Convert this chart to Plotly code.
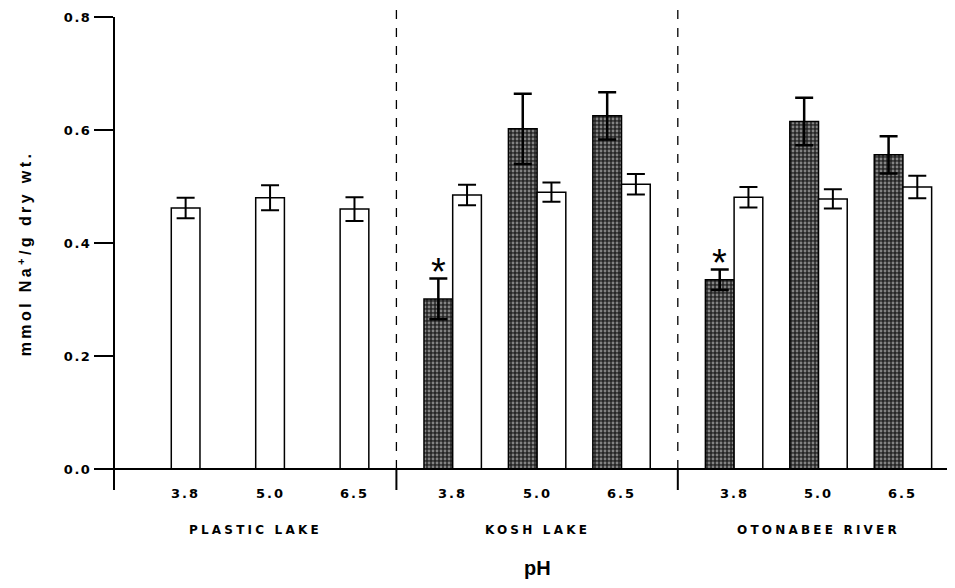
import plotly.graph_objects as go

# ---- data ----
groups = ["PLASTIC LAKE", "KOSH LAKE", "OTONABEE RIVER"]
ph_labels = ["3.8", "5.0", "6.5"]

hatched_vals = [[None, None, None], [0.301, 0.602, 0.625], [0.335, 0.615, 0.556]]
hatched_err = [[None, None, None], [0.036, 0.062, 0.042], [0.018, 0.042, 0.033]]
white_vals = [[0.462, 0.480, 0.460], [0.485, 0.490, 0.504], [0.481, 0.478, 0.499]]
white_err = [[0.018, 0.022, 0.021], [0.018, 0.017, 0.018], [0.018, 0.017, 0.020]]
significant = [[False, False, False], [True, False, False], [True, False, False]]

y_ticks = [0.0, 0.2, 0.4, 0.6, 0.8]
y_ticktext = ["0.0", "0.2", "0.4", "0.6", "0.8"]

# ---- layout helpers ----
GROUP_W = 10.0
PAIR_OFF = [2.0, 5.0, 8.0]
BAR_W = 1.02
XMAX = 29.85
YMIN, YMAX = -0.0372, 0.8


def py(v):
    """data y -> paper y (for labels drawn below the axis)"""
    return (v - YMIN) / (YMAX - YMIN)


hx, hy, he, wx, wy, we = [], [], [], [], [], []
for g in range(len(groups)):
    for i in range(len(ph_labels)):
        c = g * GROUP_W + PAIR_OFF[i]
        if hatched_vals[g][i] is not None:
            hx.append(c - BAR_W / 2)
            hy.append(hatched_vals[g][i])
            he.append(hatched_err[g][i])
        wx.append(c + BAR_W / 2)
        wy.append(white_vals[g][i])
        we.append(white_err[g][i])

fig = go.Figure()
fig.add_trace(go.Bar(
    x=hx, y=hy, width=BAR_W,
    marker=dict(color="#2a2a2a", line=dict(color="black", width=1.5),
                pattern=dict(shape=".", fgcolor="#e0e0e0", bgcolor="#262626",
                             size=4, solidity=0.4)),
    error_y=dict(type="data", array=he, visible=True, color="black",
                 thickness=2.5, width=9),
    showlegend=False,
))
fig.add_trace(go.Bar(
    x=wx, y=wy, width=BAR_W,
    marker=dict(color="white", line=dict(color="black", width=1.5)),
    error_y=dict(type="data", array=we, visible=True, color="black",
                 thickness=2, width=9),
    showlegend=False,
))

BOLD = "DejaVu Sans"
ann = []
for g in range(len(groups)):
    for i in range(len(ph_labels)):
        c = g * GROUP_W + PAIR_OFF[i]
        lx = c if hatched_vals[g][i] is not None else c + BAR_W / 2
        ann.append(dict(x=lx, y=py(-0.043), xref="x", yref="paper", showarrow=False,
                        text='<span style="letter-spacing:2px">%s</span>' % ph_labels[i],
                        font=dict(family=BOLD, size=13, color="black", weight="bold"),
                        xanchor="center", yanchor="middle"))
        if significant[g][i]:
            top = hatched_vals[g][i] + hatched_err[g][i]
            ann.append(dict(x=c - BAR_W / 2, y=top + 0.026, xref="x", yref="y",
                            showarrow=False, text="*",
                            font=dict(family="Liberation Sans", size=38, color="black"),
                            xanchor="center", yanchor="middle", yshift=-8))
    ann.append(dict(x=g * GROUP_W + GROUP_W / 2, y=py(-0.108), xref="x", yref="paper",
                    showarrow=False,
                    text='<span style="letter-spacing:3.2px">%s</span>' % groups[g],
                    font=dict(family=BOLD, size=12, color="black", weight="bold"),
                    xanchor="center", yanchor="middle"))
ann.append(dict(x=GROUP_W * 1.5, y=py(-0.176), xref="x", yref="paper", showarrow=False,
                text="pH", font=dict(family="Liberation Sans", size=20, color="black", weight="bold"),
                xanchor="center", yanchor="middle"))

shapes = []
# x axis baseline
shapes.append(dict(type="line", xref="x", yref="y", x0=0, x1=XMAX, y0=0, y1=0,
                   line=dict(color="black", width=2)))
for g in range(1, len(groups)):
    xb = g * GROUP_W
    shapes.append(dict(type="line", xref="x", yref="paper", x0=xb, x1=xb, y0=py(0), y1=1.015,
                       line=dict(color="black", width=1.3, dash="dash")))
    shapes.append(dict(type="line", xref="x", yref="paper", x0=xb, x1=xb, y0=0.0, y1=py(0),
                       line=dict(color="black", width=2)))

fig.update_layout(
    width=947, height=580,
    margin=dict(l=107, r=0, t=9, b=98),
    plot_bgcolor="white", paper_bgcolor="white",
    barmode="overlay",
    xaxis=dict(range=[0, XMAX], showticklabels=False, showgrid=False, zeroline=False,
               showline=False, ticks=""),
    yaxis=dict(range=[YMIN, YMAX], tickvals=y_ticks,
               ticktext=['<span style="letter-spacing:1.5px">%s</span>' % t for t in y_ticktext],
               showgrid=False, zeroline=False, showline=True, linecolor="black",
               linewidth=2, ticks="outside", ticklen=19, tickwidth=2, tickcolor="black",
               tickfont=dict(family=BOLD, size=13, color="black", weight="bold"),
               title=dict(text='<span style="letter-spacing:3.4px">mmol Na<sup>+</sup>/g dry wt.</span>',
                          font=dict(family="Liberation Sans", size=16, color="black", weight="bold"),
                          standoff=28)),
    annotations=ann,
    shapes=shapes,
)

fig.write_html("out.html")
